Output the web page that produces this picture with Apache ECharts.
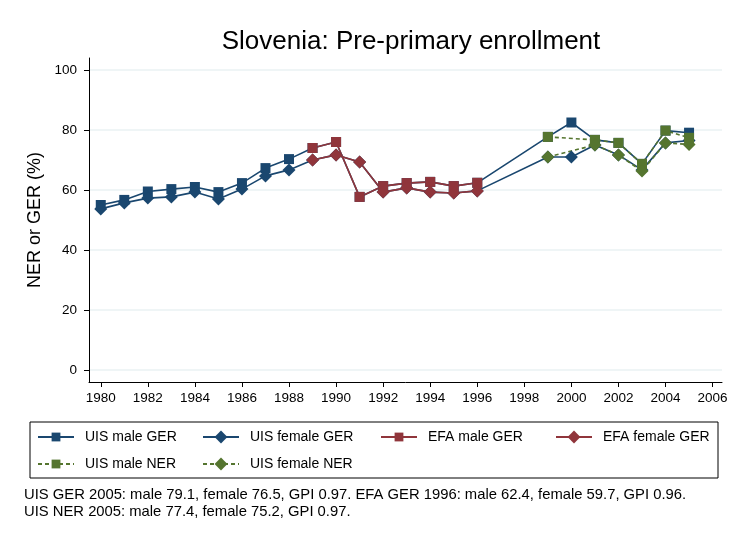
<!DOCTYPE html>
<html><head><meta charset="utf-8">
<script src="https://cdn.jsdelivr.net/npm/echarts@6/dist/echarts.min.js"></script>
<style>html,body{margin:0;padding:0;background:#fff}#c{width:731px;height:538px}</style>
</head><body><div id="c"></div>
<script>
const uisYears = [1980,1981,1982,1983,1984,1985,1986,1987,1988,1989,1990,1991,1992,1993,1994,1995,1996,1999,2000,2001,2002,2003,2004,2005];
const uisMaleGER = [55.0,56.7,59.5,60.3,61.0,59.3,62.3,67.3,70.3,74.0,76.0,57.7,61.3,62.3,62.7,61.3,62.4,77.7,82.5,76.7,75.7,68.7,79.8,79.1];
const uisFemaleGER = [53.7,55.7,57.3,57.7,59.3,57.0,60.3,64.7,66.7,70.0,71.7,69.3,59.3,60.7,59.3,59.0,59.7,71.0,71.0,75.0,71.7,66.7,75.7,76.5];
const efaYears = [1989,1990,1991,1992,1993,1994,1995,1996];
const efaMaleGER = [74.0,76.0,57.7,61.3,62.3,62.7,61.3,62.4];
const efaFemaleGER = [70.0,71.7,69.3,59.3,60.7,59.3,59.0,59.7];
const nerYears = [1999,2001,2002,2003,2004,2005];
const uisMaleNER = [77.7,76.7,75.7,68.7,79.8,77.4];
const uisFemaleNER = [71.0,75.0,71.7,66.3,75.7,75.2];
const xTicks = [1980,1982,1984,1986,1988,1990,1992,1994,1996,1998,2000,2002,2004,2006];
const yTicks = [0,20,40,60,80,100];
const seriesNames = ['UIS male GER','UIS female GER','EFA male GER','EFA female GER','UIS male NER','UIS female NER'];
const titleText = 'Slovenia: Pre-primary enrollment';
const yTitle = 'NER or GER (%)';
const note1 = 'UIS GER 2005: male 79.1, female 76.5, GPI 0.97. EFA GER 1996: male 62.4, female 59.7, GPI 0.96.';
const note2 = 'UIS NER 2005: male 77.4, female 75.2, GPI 0.97.';

const BLUE='#1a476f', RED='#90353b', GREEN='#55752f';
const pairs=(xs,ys)=>xs.map((x,i)=>[x,ys[i]]);
const font='Liberation Sans, Arial, sans-serif';

function mk(name,xs,ys,color,symbol,size,dash){
  return {name,type:'line',data:pairs(xs,ys),symbol,symbolSize:size,showSymbol:true,
    itemStyle:{color},lineStyle:{color,width:1.6,type:dash||'solid'},emphasis:{disabled:true},animation:false};
}
const series=[
  mk(seriesNames[0],uisYears,uisMaleGER,BLUE,'rect',10),
  mk(seriesNames[1],uisYears,uisFemaleGER,BLUE,'diamond',13),
  mk(seriesNames[2],efaYears,efaMaleGER,RED,'rect',10),
  mk(seriesNames[3],efaYears,efaFemaleGER,RED,'diamond',13),
  mk(seriesNames[4],nerYears,uisMaleNER,GREEN,'rect',10,[4,3]),
  mk(seriesNames[5],nerYears,uisFemaleNER,GREEN,'diamond',13,[4,3])
];
const legPos=[[37,430],[202,430],[380,430],[555,430],[37,457],[202,457]];
const legH=[11,16,11,16,11,16];
const legends=seriesNames.map((n,i)=>({data:[n],left:legPos[i][0],top:legPos[i][1],itemWidth:36,itemHeight:legH[i],itemGap:8,
  padding:0,textStyle:{fontFamily:font,fontSize:14,color:'#000',padding:[0,0,0,6]},selectedMode:false}));

const chart=echarts.init(document.getElementById('c'),null,{renderer:'canvas'});
chart.setOption({
  animation:false,
  backgroundColor:'#fff',
  title:{text:titleText,left:406,textAlign:'center',top:24,textStyle:{fontFamily:font,fontSize:26,fontWeight:'normal',color:'#000'}},
  grid:{left:89,right:9,top:58,bottom:156},
  xAxis:{type:'value',min:1979.5,max:2006.4,
    axisLine:{show:true,onZero:false,lineStyle:{color:'#000',width:1}},
    axisTick:{show:true,length:5,customValues:xTicks,lineStyle:{color:'#000'}},
    axisLabel:{customValues:xTicks,margin:9,fontFamily:font,fontSize:13.5,color:'#000',formatter:v=>String(v)},
    splitLine:{show:false}},
  yAxis:{type:'value',min:-4,max:104,name:yTitle,nameLocation:'middle',nameGap:45,
    nameTextStyle:{fontFamily:font,fontSize:18,color:'#000'},
    axisLine:{show:true,onZero:false,lineStyle:{color:'#000',width:1}},
    axisTick:{show:true,length:5,customValues:yTicks,lineStyle:{color:'#000'}},
    axisLabel:{customValues:yTicks,margin:12,fontFamily:font,fontSize:13.5,color:'#000',formatter:v=>String(v)},
    splitLine:{show:true,lineStyle:{color:'#eaf2f3',width:1.5}}},
  legend:legends,
  graphic:[
    {type:'rect',shape:{x:30,y:422,width:688,height:56},style:{fill:null,stroke:'#000',lineWidth:1}},
    {type:'text',left:24,top:487,style:{text:note1,fontFamily:font,fontSize:14.8,fill:'#000'}},
    {type:'text',left:24,top:504,style:{text:note2,fontFamily:font,fontSize:14.8,fill:'#000'}}
  ],
  series
});
</script></body></html>
